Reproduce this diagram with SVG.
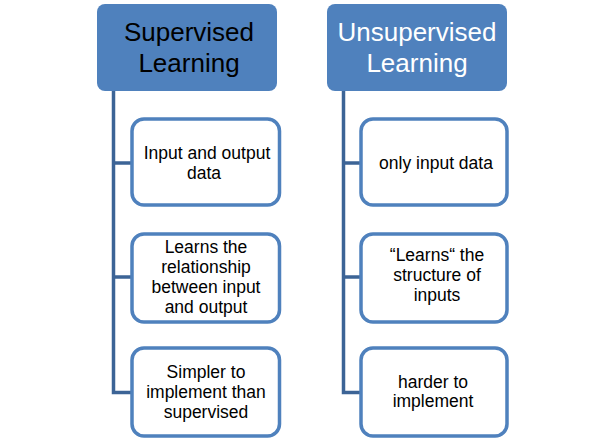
<svg xmlns="http://www.w3.org/2000/svg" width="603" height="441" viewBox="0 0 603 441">
<style>
.hdr{fill:#4F81BD;}
.box{fill:#FFFFFF;stroke:#4F81BD;stroke-width:3.5;}
.conn{fill:none;stroke:#3C6496;stroke-width:3.5;}
.ht{font-family:"Liberation Sans",Arial,sans-serif;font-size:26px;text-anchor:middle;}
.bt{font-family:"Liberation Sans",Arial,sans-serif;font-size:17.5px;text-anchor:middle;fill:#000000;}
</style>
<rect width="603" height="441" fill="#FFFFFF"/>
<g id="connectors">
<path class="conn" d="M113.5,91 V392.5 H131 M113.5,163 H131 M113.5,277 H131"/>
<path class="conn" d="M343.5,91 V392.5 H360 M343.5,163 H360 M343.5,277 H360"/>
</g>
<g id="supervised">
<rect class="hdr" x="97" y="4" width="180" height="87" rx="8"/>
<text class="ht" x="189" y="41" fill="#000000">Supervised</text>
<text class="ht" x="189" y="72" fill="#000000">Learning</text>
</g>
<g id="unsupervised">
<rect class="hdr" x="327" y="4" width="180" height="87" rx="8"/>
<text class="ht" x="417" y="41" fill="#FFFFFF">Unsupervised</text>
<text class="ht" x="417" y="72" fill="#FFFFFF">Learning</text>
</g>
<g id="s1">
<rect class="box" x="132" y="119" width="147.5" height="86" rx="12"/>
<text class="bt" x="207" y="159">Input and output</text>
<text class="bt" x="204" y="179">data</text>
</g>
<g id="s2">
<rect class="box" x="132" y="234" width="147.5" height="88" rx="12"/>
<text class="bt" x="206" y="253">Learns the</text>
<text class="bt" x="206" y="273">relationship</text>
<text class="bt" x="206" y="293">between input</text>
<text class="bt" x="206" y="313">and output</text>
</g>
<g id="s3">
<rect class="box" x="132" y="348" width="147.5" height="88" rx="12"/>
<text class="bt" x="206" y="378">Simpler to</text>
<text class="bt" x="206" y="398">implement than</text>
<text class="bt" x="206" y="418">supervised</text>
</g>
<g id="u1">
<rect class="box" x="361" y="119" width="146" height="86" rx="12"/>
<text class="bt" x="436" y="169">only input data</text>
</g>
<g id="u2">
<rect class="box" x="361" y="234" width="146" height="88" rx="12"/>
<text class="bt" x="437" y="261">“Learns“ the</text>
<text class="bt" x="437" y="281">structure of</text>
<text class="bt" x="437" y="301">inputs</text>
</g>
<g id="u3">
<rect class="box" x="361" y="348" width="146" height="88" rx="12"/>
<text class="bt" x="433" y="388">harder to</text>
<text class="bt" x="433" y="407">implement</text>
</g>
</svg>
